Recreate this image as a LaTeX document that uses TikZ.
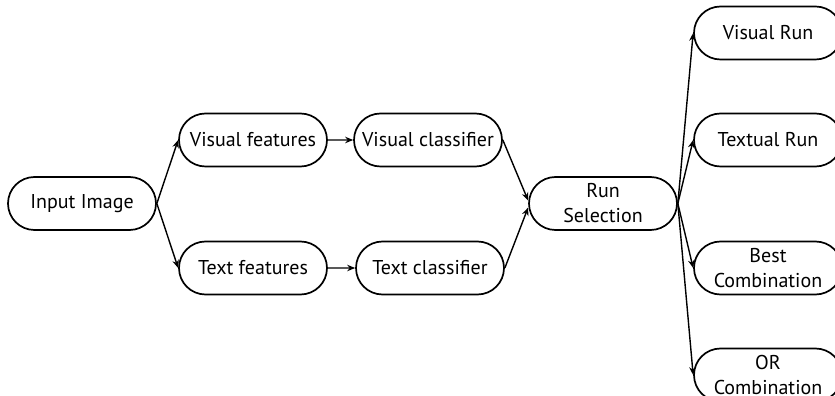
\documentclass[tikz,border=0pt]{standalone}
\usepackage{fontspec}
\setmainfont{PT Sans}
\usetikzlibrary{arrows.meta}
\usetikzlibrary{shapes.misc}

\begin{document}
\begin{tikzpicture}[x=1pt,y=1pt,
        stage/.style={rounded rectangle, draw, line width=1.7pt,
          minimum width=150pt, minimum height=53pt, inner sep=1pt,
          align=center, font=\fontsize{20}{25}\selectfont},
        flow/.style={-{Stealth[length=8pt,width=6.5pt]}, line width=1.4pt}]
        \useasboundingbox (0,0) rectangle (835,396);
        \clip (0,0) rectangle (835,396);

        \node[stage] (in) at (82,192.5) {Input Image};
        \node[stage] (vf) at (253,256) {Visual features};
        \node[stage] (tf) at (253,128) {Text features};
        \node[stage] (vc) at (428,256) {Visual classifier};
        \node[stage] (tc) at (430,128) {Text classifier};
        \node[stage] (rs) at (603,192.5) {Run\\Selection};

        \node[stage] (vr) at (768,363) {Visual Run};
        \node[stage] (tr) at (768,256) {Textual Run};
        \node[stage] (bc) at (768,128) {Best\\Combination};
        \node[stage] (oc) at (768,21) {OR\\Combination};

        \draw[flow] (in.east) -- (vf.west);
        \draw[flow] (in.east) -- (tf.west);
        \draw[flow] (vf) -- (vc);
        \draw[flow] (tf) -- (tc);
        \draw[flow] (vc.east) -- ([yshift=3pt]rs.west);
        \draw[flow] (tc.east) -- ([yshift=-4pt]rs.west);

        \draw[flow] (rs.east) -- (vr.west);
        \draw[flow] (rs.east) -- (tr.west);
        \draw[flow] (rs.east) -- (bc.west);
        \draw[flow] (rs.east) -- (oc.west);
\end{tikzpicture}
\end{document}
